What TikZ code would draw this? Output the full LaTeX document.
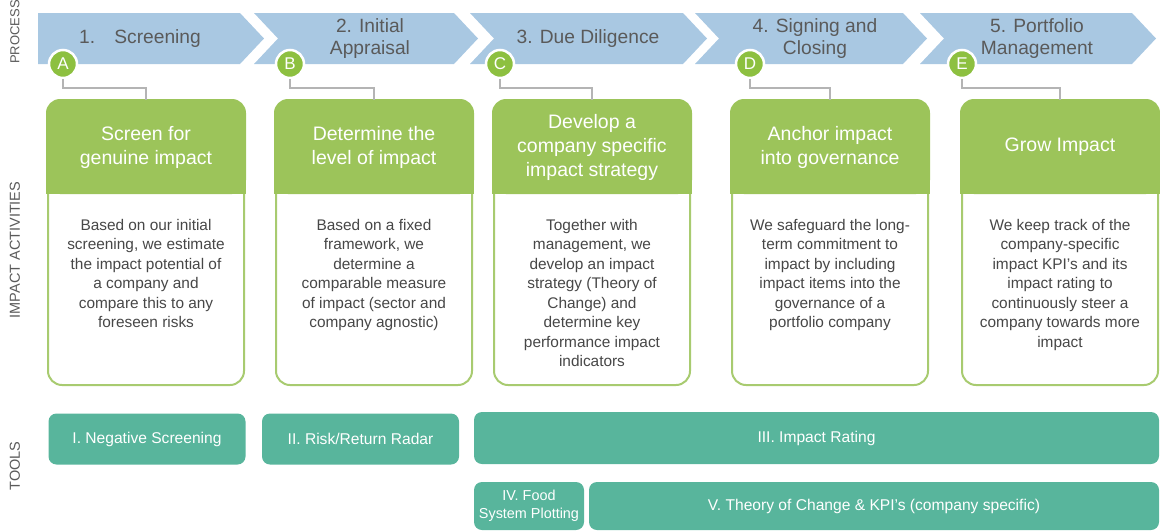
\documentclass[tikz,border=0pt]{standalone}
\usepackage{fontspec}
\setsansfont{Liberation Sans}
\usetikzlibrary{calc}
\definecolor{chevblue}{HTML}{A9C8E2}
\definecolor{actgreen}{HTML}{9CC45A}
\definecolor{rimgreen}{HTML}{A8CB70}
\definecolor{dotgreen}{HTML}{8DC040}
\definecolor{toolteal}{HTML}{58B59C}
\definecolor{txtgray}{HTML}{5A5A5A}
\definecolor{bodygray}{HTML}{474747}
\definecolor{linegray}{HTML}{B4B4B4}

\begin{document}
\begin{tikzpicture}[x=1pt, y=-1pt, font=\sffamily,
	chevtext/.style={text=txtgray, align=center, font=\sffamily\fontsize{19.2}{22}\selectfont},
	sidetext/.style={text=txtgray, rotate=90, font=\sffamily\fontsize{14.5}{16}\selectfont},
	actbox/.style={draw=rimgreen, fill=white, line width=2, rounded corners=14, minimum width=196, minimum height=284},
	headtext/.style={text=white, align=center, font=\sffamily\fontsize{19.5}{24}\selectfont},
	bodytext/.style={text=bodygray, align=center, inner sep=0, font=\sffamily\fontsize{15.4}{19.5}\selectfont},
	dot/.style={circle, fill=dotgreen, draw=white, line width=2.5, minimum size=28, inner sep=0, text=white, font=\sffamily\fontsize{17}{17}\selectfont},
	link/.style={draw=linegray, line width=2},
	tool/.style={fill=toolteal, rounded corners=8, text=white, align=center, font=\sffamily\fontsize{15.6}{19}\selectfont}]
	\def\T{13}
	\def\B{64}
	\def\D{24}
	\useasboundingbox (0,0) rectangle (1160,531);
	
	\foreach \L/\R/\N/\cx/\txt [count=\i] in {38/240/0/140/{1.\quad Screening}, 254/454/\D/370/{2. Initial\\Appraisal}, 470/683/\D/588/{3. Due Diligence}, 695/903/\D/815/{4. Signing and\\Closing}, 920/1132/\D/1037/{5. Portfolio\\Management}} {
		\fill[chevblue]	(\L,\T) -- (\R,\T) -- ({\R+\D},{(\T+\B)/2}) -- (\R,\B) -- (\L,\B) -- ({\L+\N},{(\T+\B)/2}) -- cycle;
		\node[chevtext] (p\i) at (\cx,{(\T+\B)/2}) {\txt};
	}
	
	\node[sidetext, font=\sffamily\fontsize{13}{15}\selectfont] (lproc) at (15,32) {PROCESS};
	\node[sidetext] (lact) at (15,250) {IMPACT ACTIVITIES};
	\node[sidetext] (ltool) at (15,466) {TOOLS};
	
	\foreach \n/\cx/\ox/\head/\body in {
		A/146/63/{Screen for\\genuine impact}/{Based on our initial\\screening, we estimate\\the impact potential of\\a company and\\compare this to any\\foreseen risks},
		B/374/290/{Determine the\\level of impact}/{Based on a fixed\\framework, we\\determine a\\comparable measure\\of impact (sector and\\company agnostic)},
		C/592/500/{Develop a\\company specific\\impact strategy}/{Together with\\management, we\\develop an impact\\strategy (Theory of\\Change) and\\determine key\\performance impact\\indicators},
		D/830/750/{Anchor impact\\into governance}/{We safeguard the long-\\term commitment to\\impact by including\\impact items into the\\governance of a\\portfolio company},
		E/1060/962/{Grow Impact}/{We keep track of the\\company-specific\\impact KPI's and its\\impact rating to\\continuously steer a\\company towards more\\impact}} {
		\node[actbox] (box\n) at (\cx,243) {};
		\fill[actgreen, rounded corners=14] ($(box\n.north west)+(-1,-1)$) rectangle ($(box\n.north east)+(1,94)$);
		\fill[actgreen] ($(box\n.north west)+(-1,60)$) rectangle ($(box\n.north east)+(1,94)$);
		\node[headtext] (h\n) at ($(box\n.north)+(0,47)$) {\head};
		\node[bodytext, anchor=north] (t\n) at ($(box\n.north)+(0,119)$) {\body};
		\node[dot] (dot\n) at (\ox,64) {\n};
		\draw[link] (dot\n.south) |- ($(box\n.north)+(0,-12)$) -- (box\n.north);
	}
	
	\node[tool, minimum width=197, minimum height=51] (neg) at (147,439) {I. Negative Screening};
	\node[tool, minimum width=197, minimum height=51] (radar) at (360.5,439) {II. Risk/Return Radar};
	\node[tool, minimum width=685, minimum height=52] (rating) at (816.5,438) {III. Impact Rating};
	\node[tool, minimum width=110, minimum height=48, inner sep=1, font=\sffamily\fontsize{14.4}{18}\selectfont] (food) at (529,506) {IV. Food\\System Plotting};
	\node[tool, minimum width=570, minimum height=48] (toc) at (874,506) {V. Theory of Change \& KPI's (company specific)};
	
\end{tikzpicture}
\end{document}
